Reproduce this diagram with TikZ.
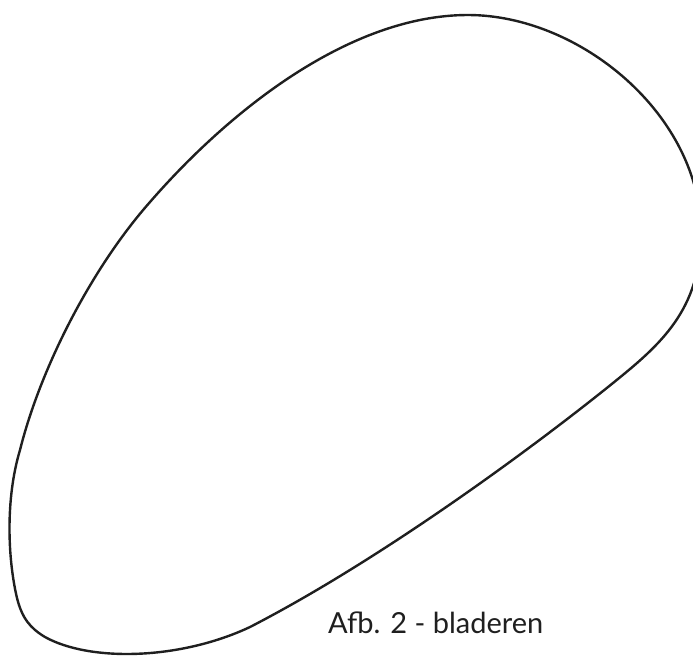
\documentclass[tikz,border=0pt]{standalone}
\usepackage{fontspec}
\setmainfont{Lato}
\begin{document}
\begin{tikzpicture}[x=1pt,y=-1pt,
  leaf/.style={line width=2.4pt,draw=black!88,line join=round},
  caption/.style={font=\fontsize{29}{34}\selectfont,text=black!88,inner sep=0pt,anchor=base west}]
\useasboundingbox (0,0) rectangle (693,657);
\begin{scope}
\clip (0,0) rectangle (693,657);
\draw[leaf] (468,15) .. controls (580,15) and (701,115) .. (701,233)
  .. controls (701,310) and (660,345) .. (613,383)
  .. controls (530,450) and (380,560) .. (250,627)
  .. controls (180,660) and (90,662) .. (45,637)
  .. controls (30,628) and (22,618) .. (17,598)
  .. controls (8,560) and (5,500) .. (20,450)
  .. controls (40,370) and (90,270) .. (150,202)
  .. controls (230,110) and (350,15) .. (468,15) -- cycle;
\end{scope}
\node[caption] (cap) at (328,633) {Afb. 2 - bladeren};
\end{tikzpicture}
\end{document}
